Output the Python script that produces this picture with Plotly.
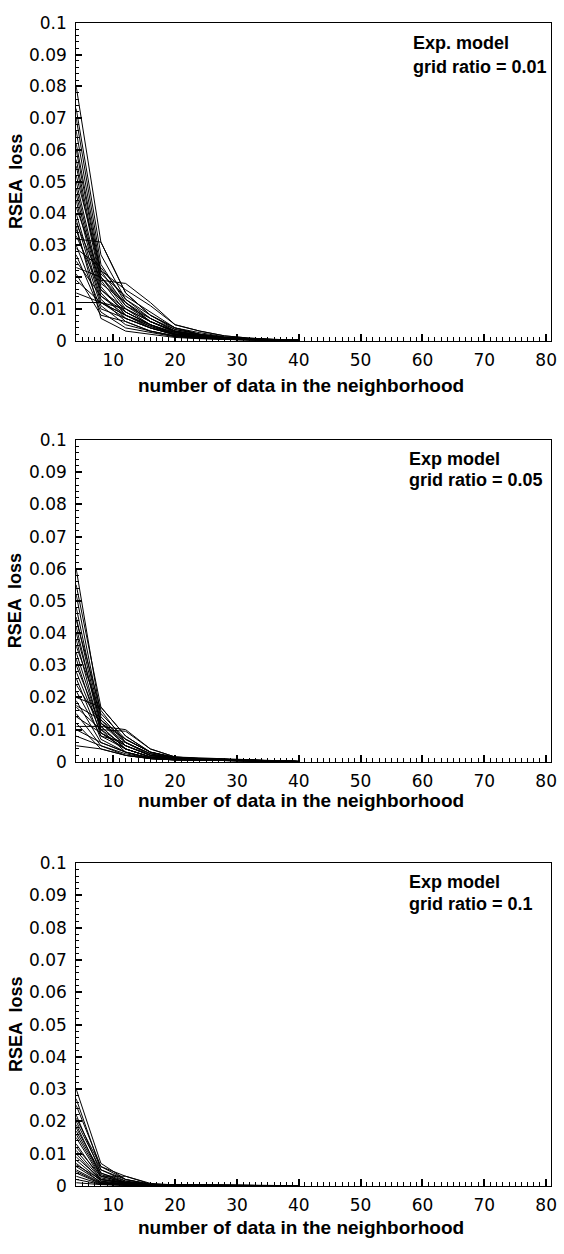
import plotly.graph_objects as go

# ---------------- data ----------------
neighbors = [4, 8, 12, 16, 20, 24, 28, 32, 36, 40]

x_tick_vals = [10, 20, 30, 40, 50, 60, 70, 80]
x_tick_text = ["10", "20", "30", "40", "50", "60", "70", "80"]
y_tick_vals = [0, 0.01, 0.02, 0.03, 0.04, 0.05, 0.06, 0.07, 0.08, 0.09, 0.1]
y_tick_text = ["0", "0.01", "0.02", "0.03", "0.04", "0.05", "0.06", "0.07", "0.08", "0.09", "0.1"]

# grid ratio = 0.01
loss_ratio_001 = [
    [0.080, 0.031, 0.015, 0.008, 0.004, 0.002, 0.001, 0.0006, 0.0003, 0.0001],
    [0.073, 0.027, 0.013, 0.007, 0.003, 0.0018, 0.0009, 0.0005, 0.0003, 0.0001],
    [0.070, 0.024, 0.012, 0.006, 0.0028, 0.0015, 0.0008, 0.0004, 0.0002, 0.0001],
    [0.066, 0.022, 0.011, 0.006, 0.003, 0.0016, 0.0009, 0.0005, 0.0002, 0.0001],
    [0.062, 0.021, 0.014, 0.009, 0.004, 0.0025, 0.0012, 0.0006, 0.0003, 0.0001],
    [0.060, 0.020, 0.010, 0.005, 0.0025, 0.0014, 0.0008, 0.0004, 0.0002, 0.0001],
    [0.057, 0.019, 0.009, 0.005, 0.002, 0.0012, 0.0006, 0.0003, 0.0002, 0.0001],
    [0.055, 0.018, 0.012, 0.007, 0.0035, 0.002, 0.001, 0.0005, 0.0003, 0.0001],
    [0.052, 0.022, 0.016, 0.011, 0.005, 0.003, 0.0015, 0.0008, 0.0004, 0.0002],
    [0.050, 0.017, 0.008, 0.004, 0.002, 0.001, 0.0005, 0.0003, 0.0001, 0.0001],
    [0.048, 0.016, 0.010, 0.006, 0.003, 0.0017, 0.0009, 0.0004, 0.0002, 0.0001],
    [0.046, 0.015, 0.007, 0.004, 0.0018, 0.001, 0.0005, 0.0003, 0.0001, 0.0001],
    [0.044, 0.014, 0.009, 0.005, 0.0025, 0.0013, 0.0007, 0.0004, 0.0002, 0.0001],
    [0.042, 0.020, 0.011, 0.007, 0.003, 0.0018, 0.0009, 0.0005, 0.0002, 0.0001],
    [0.040, 0.013, 0.006, 0.003, 0.0015, 0.0009, 0.0005, 0.0002, 0.0001, 0.0001],
    [0.038, 0.012, 0.008, 0.0045, 0.002, 0.0012, 0.0006, 0.0003, 0.0002, 0.0001],
    [0.037, 0.019, 0.018, 0.012, 0.005, 0.003, 0.0015, 0.0008, 0.0004, 0.0002],
    [0.035, 0.011, 0.005, 0.003, 0.0013, 0.0008, 0.0004, 0.0002, 0.0001, 0.0001],
    [0.033, 0.016, 0.009, 0.005, 0.0022, 0.0012, 0.0006, 0.0003, 0.0002, 0.0001],
    [0.030, 0.010, 0.007, 0.004, 0.0018, 0.001, 0.0005, 0.0003, 0.0001, 0.0001],
    [0.029, 0.023, 0.013, 0.008, 0.0035, 0.002, 0.001, 0.0005, 0.0002, 0.0001],
    [0.027, 0.009, 0.004, 0.0025, 0.0012, 0.0007, 0.0004, 0.0002, 0.0001, 0.0001],
    [0.025, 0.014, 0.008, 0.0045, 0.002, 0.0011, 0.0006, 0.0003, 0.0001, 0.0001],
    [0.023, 0.020, 0.012, 0.006, 0.0028, 0.0015, 0.0008, 0.0004, 0.0002, 0.0001],
    [0.021, 0.008, 0.006, 0.003, 0.0015, 0.0008, 0.0004, 0.0002, 0.0001, 0.0001],
    [0.019, 0.012, 0.007, 0.004, 0.0018, 0.001, 0.0005, 0.0003, 0.0001, 0.0001],
    [0.015, 0.012, 0.010, 0.006, 0.0025, 0.0013, 0.0007, 0.0003, 0.0002, 0.0001],
    [0.012, 0.012, 0.008, 0.005, 0.002, 0.0012, 0.0006, 0.0003, 0.0001, 0.0001],
    [0.032, 0.031, 0.015, 0.008, 0.004, 0.002, 0.001, 0.0005, 0.0002, 0.0001],
    [0.036, 0.007, 0.003, 0.002, 0.001, 0.0006, 0.0003, 0.0002, 0.0001, 0.0001],
]

# grid ratio = 0.05
loss_ratio_005 = [
    [0.060, 0.014, 0.006, 0.002, 0.0012, 0.0010, 0.0008, 0.0005, 0.0002, 0.0001],
    [0.055, 0.017, 0.008, 0.003, 0.0015, 0.0012, 0.001, 0.0005, 0.0002, 0.0001],
    [0.052, 0.013, 0.005, 0.002, 0.001, 0.0008, 0.0006, 0.0003, 0.0001, 0.0001],
    [0.048, 0.012, 0.007, 0.003, 0.0012, 0.001, 0.0008, 0.0004, 0.0002, 0.0001],
    [0.045, 0.011, 0.004, 0.0015, 0.0008, 0.0006, 0.0005, 0.0003, 0.0001, 0.0001],
    [0.042, 0.010, 0.0095, 0.004, 0.0015, 0.001, 0.0008, 0.0004, 0.0002, 0.0001],
    [0.040, 0.012, 0.005, 0.002, 0.001, 0.0008, 0.0006, 0.0003, 0.0001, 0.0001],
    [0.038, 0.009, 0.004, 0.0015, 0.0008, 0.0006, 0.0005, 0.0002, 0.0001, 0.0001],
    [0.036, 0.015, 0.007, 0.003, 0.0012, 0.001, 0.0008, 0.0004, 0.0002, 0.0001],
    [0.034, 0.010, 0.003, 0.0012, 0.0007, 0.0005, 0.0004, 0.0002, 0.0001, 0.0001],
    [0.032, 0.008, 0.006, 0.0025, 0.001, 0.0008, 0.0006, 0.0003, 0.0001, 0.0001],
    [0.030, 0.011, 0.004, 0.0015, 0.0008, 0.0006, 0.0005, 0.0002, 0.0001, 0.0001],
    [0.028, 0.009, 0.005, 0.002, 0.001, 0.0008, 0.0006, 0.0003, 0.0001, 0.0001],
    [0.026, 0.007, 0.003, 0.0012, 0.0007, 0.0005, 0.0004, 0.0002, 0.0001, 0.0001],
    [0.024, 0.012, 0.006, 0.0025, 0.001, 0.0008, 0.0006, 0.0003, 0.0001, 0.0001],
    [0.022, 0.008, 0.004, 0.0015, 0.0008, 0.0006, 0.0005, 0.0002, 0.0001, 0.0001],
    [0.020, 0.017, 0.008, 0.003, 0.0012, 0.001, 0.0008, 0.0004, 0.0002, 0.0001],
    [0.019, 0.006, 0.003, 0.001, 0.0006, 0.0005, 0.0004, 0.0002, 0.0001, 0.0001],
    [0.017, 0.010, 0.005, 0.002, 0.001, 0.0008, 0.0006, 0.0003, 0.0001, 0.0001],
    [0.015, 0.005, 0.002, 0.001, 0.0006, 0.0005, 0.0004, 0.0002, 0.0001, 0.0001],
    [0.014, 0.009, 0.004, 0.0015, 0.0008, 0.0006, 0.0005, 0.0002, 0.0001, 0.0001],
    [0.012, 0.004, 0.002, 0.001, 0.0006, 0.0005, 0.0004, 0.0002, 0.0001, 0.0001],
    [0.011, 0.011, 0.010, 0.004, 0.0015, 0.001, 0.0008, 0.0004, 0.0002, 0.0001],
    [0.010, 0.006, 0.003, 0.0012, 0.0007, 0.0005, 0.0004, 0.0002, 0.0001, 0.0001],
    [0.008, 0.005, 0.0025, 0.001, 0.0006, 0.0005, 0.0004, 0.0002, 0.0001, 0.0001],
    [0.005, 0.004, 0.002, 0.001, 0.0006, 0.0005, 0.0004, 0.0002, 0.0001, 0.0001],
    [0.0175, 0.013, 0.007, 0.003, 0.0012, 0.001, 0.0008, 0.0004, 0.0002, 0.0001],
    [0.044, 0.016, 0.006, 0.0025, 0.001, 0.0008, 0.0006, 0.0003, 0.0001, 0.0001],
]

# grid ratio = 0.1
loss_ratio_01 = [
    [0.030, 0.007, 0.002, 0.0005, 0.0003, 0.0003, 0.0003, 0.0001, 0.0001, 0.0001],
    [0.027, 0.005, 0.0015, 0.0004, 0.0003, 0.0002, 0.0002, 0.0001, 0.0001, 0.0001],
    [0.025, 0.006, 0.003, 0.0006, 0.0003, 0.0003, 0.0002, 0.0001, 0.0001, 0.0001],
    [0.022, 0.004, 0.001, 0.0003, 0.0002, 0.0002, 0.0002, 0.0001, 0.0001, 0.0001],
    [0.020, 0.005, 0.002, 0.0005, 0.0003, 0.0002, 0.0002, 0.0001, 0.0001, 0.0001],
    [0.019, 0.003, 0.001, 0.0003, 0.0002, 0.0002, 0.0001, 0.0001, 0.0001, 0.0001],
    [0.018, 0.004, 0.0015, 0.0004, 0.0003, 0.0002, 0.0002, 0.0001, 0.0001, 0.0001],
    [0.016, 0.003, 0.003, 0.0008, 0.0003, 0.0003, 0.0002, 0.0001, 0.0001, 0.0001],
    [0.015, 0.0025, 0.001, 0.0003, 0.0002, 0.0002, 0.0001, 0.0001, 0.0001, 0.0001],
    [0.013, 0.002, 0.0008, 0.0003, 0.0002, 0.0001, 0.0001, 0.0001, 0.0001, 0.0001],
    [0.012, 0.003, 0.0012, 0.0004, 0.0002, 0.0002, 0.0001, 0.0001, 0.0001, 0.0001],
    [0.011, 0.002, 0.0008, 0.0003, 0.0002, 0.0001, 0.0001, 0.0001, 0.0001, 0.0001],
    [0.010, 0.0015, 0.0006, 0.0002, 0.0002, 0.0001, 0.0001, 0.0001, 0.0001, 0.0001],
    [0.009, 0.002, 0.001, 0.0003, 0.0002, 0.0001, 0.0001, 0.0001, 0.0001, 0.0001],
    [0.008, 0.0015, 0.0006, 0.0002, 0.0001, 0.0001, 0.0001, 0.0001, 0.0001, 0.0001],
    [0.007, 0.001, 0.0005, 0.0002, 0.0001, 0.0001, 0.0001, 0.0001, 0.0001, 0.0001],
    [0.006, 0.0012, 0.0005, 0.0002, 0.0001, 0.0001, 0.0001, 0.0001, 0.0001, 0.0001],
    [0.005, 0.001, 0.0004, 0.0002, 0.0001, 0.0001, 0.0001, 0.0001, 0.0001, 0.0001],
    [0.0045, 0.0008, 0.0003, 0.0001, 0.0001, 0.0001, 0.0001, 0.0001, 0.0001, 0.0001],
    [0.004, 0.0007, 0.0003, 0.0001, 0.0001, 0.0001, 0.0001, 0.0001, 0.0001, 0.0001],
    [0.003, 0.0006, 0.0002, 0.0001, 0.0001, 0.0001, 0.0001, 0.0001, 0.0001, 0.0001],
    [0.002, 0.0005, 0.0002, 0.0001, 0.0001, 0.0001, 0.0001, 0.0001, 0.0001, 0.0001],
    [0.001, 0.0004, 0.0002, 0.0001, 0.0001, 0.0001, 0.0001, 0.0001, 0.0001, 0.0001],
    [0.021, 0.006, 0.002, 0.0005, 0.0003, 0.0002, 0.0002, 0.0001, 0.0001, 0.0001],
    [0.017, 0.0035, 0.0012, 0.0004, 0.0002, 0.0002, 0.0001, 0.0001, 0.0001, 0.0001],
    [0.0065, 0.002, 0.0008, 0.0003, 0.0002, 0.0001, 0.0001, 0.0001, 0.0001, 0.0001],
]

panel_labels = [("Exp. model", "grid ratio = 0.01"),
                ("Exp model", "grid ratio = 0.05"),
                ("Exp model", "grid ratio = 0.1")]

# ---------------- layout geometry (pixels) ----------------
W, H = 564, 1254
plot_left, plot_right = 77, 557
panel_px = [(13, 336), (437, 764), (867, 1195)]       # top, bottom of each plot area
xtitle_y = [382, 803, 1237]
label_x = [415, 411, 411]
label_dy = [(21, 45), (19, 41), (19, 41)]


def py(p):
    return 1 - p / H


fig = go.Figure()
all_series = [loss_ratio_001, loss_ratio_005, loss_ratio_01]

tick_font = dict(family="DejaVu Sans", size=17, color="black")
bold_font = "Liberation Sans"

annotations = []
for i, series in enumerate(all_series):
    xa = "x" if i == 0 else f"x{i+1}"
    ya = "y" if i == 0 else f"y{i+1}"
    for s in series:
        fig.add_trace(go.Scatter(
            x=neighbors, y=s, mode="lines", xaxis=xa, yaxis=ya,
            line=dict(color="black", width=1), showlegend=False,
            hoverinfo="skip"))
    top, bot = panel_px[i]
    xkey = "xaxis" if i == 0 else f"xaxis{i+1}"
    ykey = "yaxis" if i == 0 else f"yaxis{i+1}"
    fig.update_layout(**{
        xkey: dict(
            domain=[plot_left / W, plot_right / W], anchor=ya,
            range=[4, 80.8], tickvals=x_tick_vals, ticktext=x_tick_text,
            ticks="inside", ticklen=7, tickwidth=1.5, tickcolor="black",
            minor=dict(dtick=1, tick0=0, ticks="inside", ticklen=4,
                       tickcolor="black", tickwidth=1),
            showline=True, linecolor="black", linewidth=1, mirror=True,
            showgrid=False, zeroline=False, tickfont=tick_font,
            ticklabelstandoff=4, fixedrange=True),
        ykey: dict(
            domain=[py(bot), py(top)], anchor=xa,
            range=[0, 0.1], tickvals=y_tick_vals, ticktext=y_tick_text,
            ticks="inside", ticklen=6, tickwidth=1.5, tickcolor="black",
            minor=dict(dtick=0.002, tick0=0, ticks="inside", ticklen=3,
                       tickcolor="black", tickwidth=1),
            showline=True, linecolor="black", linewidth=1, mirror=True,
            showgrid=False, zeroline=False, tickfont=tick_font,
            ticklabelstandoff=5, fixedrange=True),
    })
    # panel labels
    l1, l2 = panel_labels[i]
    for txt, dy in zip((l1, l2), label_dy[i]):
        annotations.append(dict(
            text=f"<b>{txt}</b>", xref="paper", yref="paper",
            x=label_x[i] / W, y=py(top + dy), xanchor="left", yanchor="middle",
            showarrow=False, font=dict(family=bold_font, size=18, color="black")))
    # x-axis title
    annotations.append(dict(
        text="<b>number of data in the neighborhood</b>", xref="paper", yref="paper",
        x=304 / W, y=py(xtitle_y[i]), xanchor="center", yanchor="middle",
        showarrow=False, font=dict(family=bold_font, size=19, color="black")))
    # y-axis title
    annotations.append(dict(
        text="<b>RSEA  loss</b>", xref="paper", yref="paper",
        x=15.5 / W, y=py((top + bot) / 2), xanchor="center", yanchor="middle",
        textangle=-90, showarrow=False,
        font=dict(family=bold_font, size=18, color="black")))

fig.update_layout(
    width=W, height=H, margin=dict(l=0, r=0, t=0, b=0),
    paper_bgcolor="white", plot_bgcolor="white",
    annotations=annotations, showlegend=False)

fig.write_html("out.html")
